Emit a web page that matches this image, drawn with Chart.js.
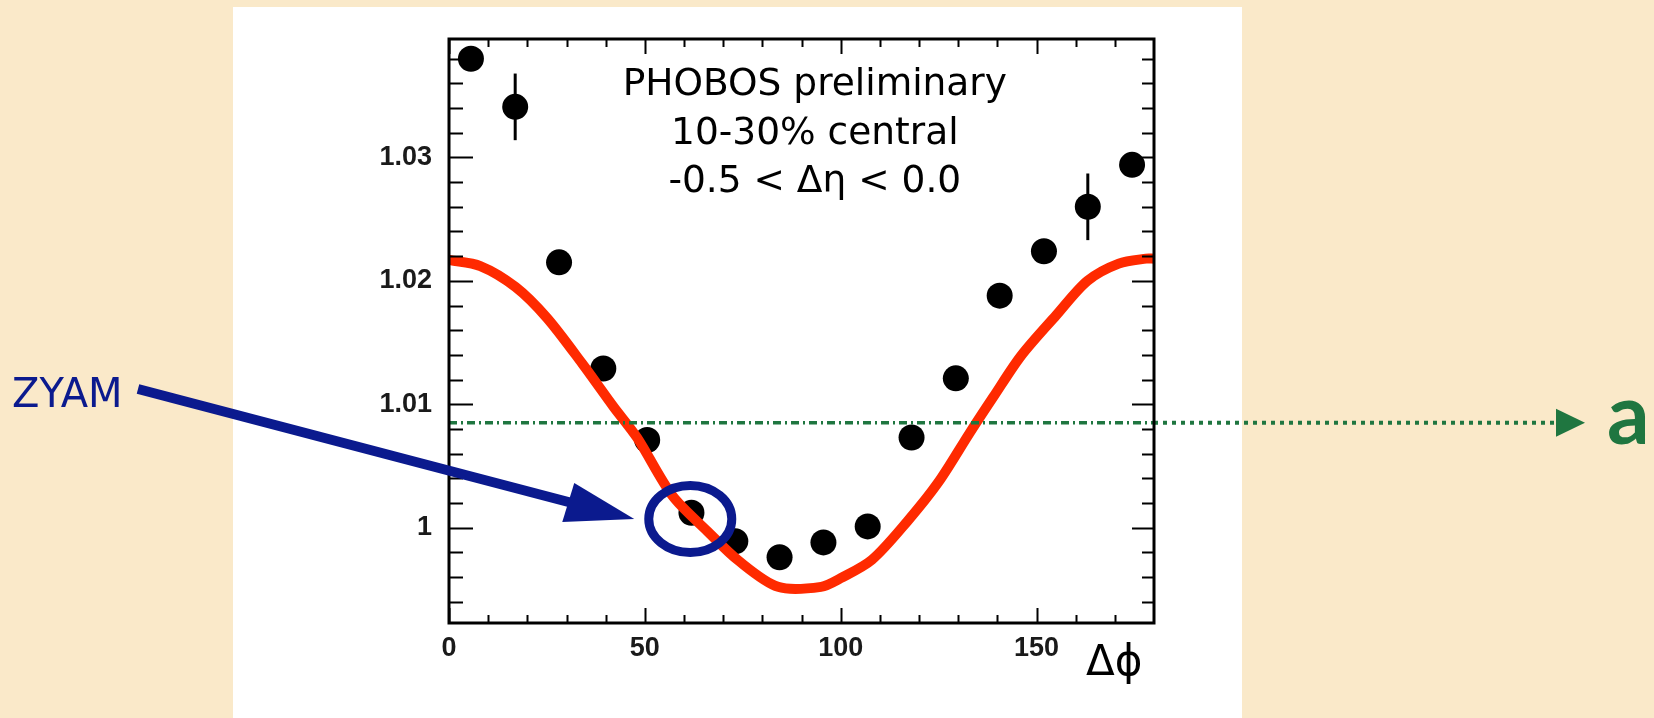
<!DOCTYPE html>
<html lang="en">
<head>
<meta charset="UTF-8">
<title>PHOBOS ZYAM</title>
<script src="https://cdn.jsdelivr.net/npm/chart.js"></script>
<style>
  html, body { margin: 0; padding: 0; background: #fae9c9; }
  .wrap { width: 1654px; height: 718px; position: relative; }
</style>
</head>
<body>
<div class="wrap"><canvas id="grafico"></canvas></div>
<script>
  // data
  var dPhi = [5.6, 16.9, 28.1, 39.4, 50.6, 61.9, 73.1, 84.4, 95.6, 106.9, 118.1, 129.4, 140.6, 151.9, 163.1, 174.4];
  var correl = [1.0380, 1.0341, 1.0215, 1.0129, 1.0071, 1.0012, 0.9989, 0.9976, 0.9988, 1.0001, 1.0073, 1.0121, 1.0188, 1.0224, 1.0260, 1.0294];
  var correlErr = [0.0006, 0.0027, 0.0006, 0.0006, 0.0006, 0.0006, 0.0006, 0.0006, 0.0006, 0.0006, 0.0006, 0.0006, 0.0006, 0.0006, 0.0027, 0.0006];

  var flowX = [0, 8, 17, 25, 34, 42, 48, 57, 66, 74, 84, 95, 100, 108, 117, 125, 133, 139, 146, 155, 163, 171, 178, 180];
  var flowY = [1.0217, 1.0212, 1.0195, 1.0170, 1.0133, 1.0098, 1.0073, 1.0026, 0.9997, 0.9973, 0.9952, 0.9952, 0.9959, 0.9974, 1.0005, 1.0037, 1.0077, 1.0106, 1.0139, 1.0172, 1.0200, 1.0214, 1.0218, 1.0218];

  var zyamLevel = 1.0085;

  var xMajor = [0, 50, 100, 150];
  var xMinor = [10, 20, 30, 40, 60, 70, 80, 90, 110, 120, 130, 140, 160, 170];
  var yMajor = [1, 1.01, 1.02, 1.03];
  var yMinor = [0.994, 0.996, 0.998, 1.002, 1.004, 1.006, 1.008, 1.012, 1.014, 1.016, 1.018,
                1.022, 1.024, 1.026, 1.028, 1.032, 1.034, 1.036, 1.038];

  var infoLines = ['PHOBOS preliminary', '10-30% central', '-0.5 < Δη < 0.0'];

  var pontos = [];
  for (var i = 0; i < dPhi.length; i++) pontos.push({ x: dPhi[i], y: correl[i] });
  var curva = [];
  for (var j = 0; j < flowX.length; j++) curva.push({ x: flowX[j], y: flowY[j] });

  var azul = '#0b1a8e';
  var verde = '#1f7640';

  function tickSet(ctx, a, xs, ys) {
    ctx.strokeStyle = '#000';
    ctx.lineWidth = 2;
    ctx.beginPath();
    xMajor.concat(xMinor).forEach(function (v) {
      var len = xMajor.indexOf(v) >= 0 ? 15 : 8;
      var px = Math.round(xs.getPixelForValue(v)) + 0.5;
      ctx.moveTo(px, a.bottom); ctx.lineTo(px, a.bottom - len);
      ctx.moveTo(px, a.top); ctx.lineTo(px, a.top + len);
    });
    yMajor.concat(yMinor).forEach(function (v) {
      var len = yMajor.indexOf(v) >= 0 ? 24 : 14;
      var py = Math.round(ys.getPixelForValue(v)) + 0.5;
      ctx.moveTo(a.left, py); ctx.lineTo(a.left + len, py);
      ctx.moveTo(a.right, py); ctx.lineTo(a.right - len + 2, py);
    });
    ctx.stroke();
  }

  var decor = {
    id: 'decor',
    beforeDraw: function (chart) {
      var ctx = chart.ctx;
      ctx.save();
      ctx.fillStyle = '#fae9c9';
      ctx.fillRect(0, 0, chart.width, chart.height);
      ctx.fillStyle = '#ffffff';
      ctx.fillRect(233, 7, 1009, chart.height - 7);
      ctx.restore();
    },
    beforeDatasetsDraw: function (chart) {
      var xs = chart.scales.x, ys = chart.scales.y, ctx = chart.ctx;
      ctx.save();
      ctx.strokeStyle = '#000';
      ctx.lineWidth = 3;
      for (var i = 0; i < dPhi.length; i++) {
        var px = xs.getPixelForValue(dPhi[i]);
        ctx.beginPath();
        ctx.moveTo(px, ys.getPixelForValue(correl[i] - correlErr[i]));
        ctx.lineTo(px, ys.getPixelForValue(correl[i] + correlErr[i]));
        ctx.stroke();
      }
      ctx.restore();
    },
    afterDraw: function (chart) {
      var ctx = chart.ctx, a = chart.chartArea;
      var xs = chart.scales.x, ys = chart.scales.y;
      ctx.save();

      // ZYAM level line
      var gy = ys.getPixelForValue(zyamLevel);
      ctx.strokeStyle = verde;
      ctx.lineWidth = 3.5;
      ctx.setLineDash([8, 4, 2, 4]);
      ctx.beginPath(); ctx.moveTo(a.left, gy); ctx.lineTo(a.right, gy); ctx.stroke();
      ctx.lineWidth = 4;
      ctx.setLineDash([4, 5]);
      ctx.beginPath(); ctx.moveTo(a.right, gy); ctx.lineTo(1557, gy); ctx.stroke();
      ctx.setLineDash([]);
      ctx.fillStyle = verde;
      ctx.beginPath(); ctx.moveTo(1556, gy - 14); ctx.lineTo(1585, gy); ctx.lineTo(1556, gy + 14); ctx.closePath(); ctx.fill();
      ctx.font = 'bold 84px Lato';
      ctx.textBaseline = 'alphabetic';
      ctx.fillText('a', 1607, gy + 21);

      // frame and ticks
      tickSet(ctx, a, xs, ys);
      ctx.lineWidth = 3;
      ctx.strokeRect(a.left, a.top, a.right - a.left, a.bottom - a.top);

      // info text
      ctx.fillStyle = '#000';
      ctx.font = '37.5px "DejaVu Sans"';
      ctx.textAlign = 'center';
      var cx = xs.getPixelForValue(93.4);
      infoLines.forEach(function (t, k) { ctx.fillText(t, cx, a.top + 56 + k * 48.5); });

      // axis title
      ctx.textAlign = 'left';
      ctx.font = '42px "DejaVu Sans"';
      ctx.fillText('Δϕ', 1086, 675);

      // ZYAM label, arrow and circle
      ctx.fillStyle = azul;
      ctx.font = '40px "DejaVu Sans"';
      ctx.fillText('ZYAM', 12, 407);
      var tipX = xs.getPixelForValue(47.3), tipY = ys.getPixelForValue(1.0007);
      ctx.strokeStyle = azul;
      ctx.lineWidth = 10;
      ctx.beginPath(); ctx.moveTo(138, 389); ctx.lineTo(tipX - 62, tipY - 16); ctx.stroke();
      ctx.beginPath();
      ctx.moveTo(tipX - 60, tipY - 36);
      ctx.lineTo(tipX, tipY);
      ctx.lineTo(tipX - 72, tipY + 3);
      ctx.closePath(); ctx.fill();
      ctx.lineWidth = 9;
      ctx.beginPath();
      ctx.ellipse(xs.getPixelForValue(61.6), ys.getPixelForValue(1.0007), 41.5, 33.5, 0, 0, Math.PI * 2);
      ctx.stroke();

      ctx.restore();
    }
  };

  new Chart(document.getElementById('grafico').getContext('2d'), {
    type: 'scatter',
    data: {
      datasets: [{
        label: 'flow',
        type: 'line',
        data: curva,
        borderColor: '#ff2a00',
        borderWidth: 10,
        pointRadius: 0,
        fill: false,
        tension: 0.3,
        order: 0
      }, {
        label: 'data',
        data: pontos,
        backgroundColor: '#000',
        borderWidth: 0,
        pointRadius: 13,
        order: 1
      }]
    },
    options: {
      responsive: true,
      maintainAspectRatio: false,
      animation: false,
      events: [],
      layout: { padding: { left: 349, right: 500, top: 39, bottom: 35 } },
      plugins: { legend: { display: false }, tooltip: { enabled: false } },
      scales: {
        x: {
          type: 'linear', min: 0, max: 180,
          grid: { display: false }, border: { display: false },
          afterBuildTicks: function (s) { s.ticks = xMajor.map(function (v) { return { value: v }; }); },
          afterFit: function (s) { s.height = 60; },
          ticks: {
            padding: 1, maxRotation: 0, autoSkip: false, color: '#1a1a1a',
            font: { family: '"Liberation Sans"', size: 27, weight: 'bold' },
            callback: function (v) { return String(v); }
          }
        },
        y: {
          type: 'linear', min: 0.99227, max: 1.0396,
          grid: { display: false }, border: { display: false },
          afterBuildTicks: function (s) { s.ticks = yMajor.map(function (v) { return { value: v }; }); },
          afterFit: function (s) { s.width = 100; },
          ticks: {
            padding: 9, autoSkip: false, color: '#1a1a1a',
            font: { family: '"Liberation Sans"', size: 27, weight: 'bold' },
            callback: function (v) { return String(v); }
          }
        }
      }
    },
    plugins: [decor]
  });
</script>
</body>
</html>
